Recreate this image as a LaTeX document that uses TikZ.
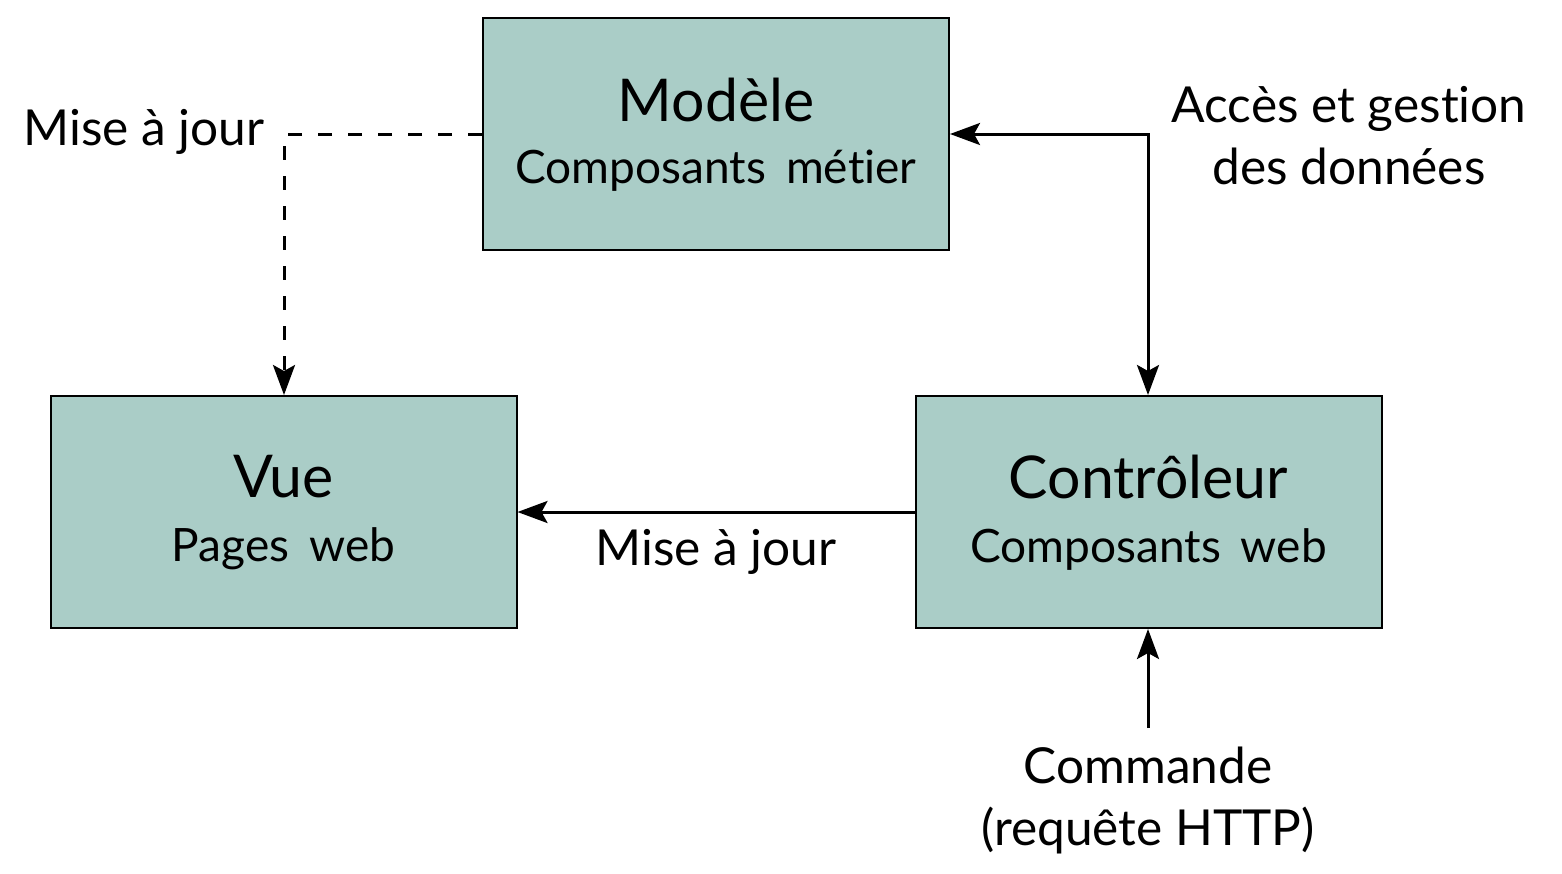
\documentclass[tikz,border=0pt]{standalone}
\usepackage{fontspec}
\setmainfont{Lato}[Ligatures=NoCommon]
\newfontfamily\subfont{Lato}[Ligatures=NoCommon, WordSpace=1.7]
\usetikzlibrary{arrows.meta}
\definecolor{boxfill}{HTML}{AACDC7}
\tikzset{
  block/.style={draw=black, line width=1pt, fill=boxfill, minimum width=233pt, minimum height=116pt, inner sep=0pt},
  ttl/.style={font=\fontsize{29.5}{34}\selectfont},
  sub/.style={font=\subfont\fontsize{23}{26}\selectfont},
  lbl/.style={font=\fontsize{24.8}{31}\selectfont, align=center, inner sep=0pt},
  conn/.style={line width=1.5pt, -{Stealth[length=15pt,width=11pt,inset=3pt]}},
  both/.style={line width=1.5pt, {Stealth[length=15pt,width=11pt,inset=3pt]}-{Stealth[length=15pt,width=11pt,inset=3pt]}},
  dconn/.style={line width=1.5pt, dash pattern=on 7pt off 8pt, -{Stealth[length=15pt,width=11pt,inset=3pt]}}
}
\begin{document}
\begin{tikzpicture}[x=0.5pt,y=0.5pt]
\useasboundingbox (0,0) rectangle (1562,-873);
\node[block] (mod) at (716,-134) {};
\node[block] (vue) at (283.5,-512) {};
\node[block] (ctl) at (1148.5,-512) {};
\node[ttl] (modt) at (716,-100) {Modèle};
\node[sub] (mods) at (716,-171) {Composants métier};
\node[ttl] (vuet) at (283.5,-477) {Vue};
\node[sub] (vues) at (283.5,-549) {Pages web};
\node[ttl] (ctlt) at (1148.5,-477) {Contrôleur};
\node[sub] (ctls) at (1148.5,-549) {Composants web};
\coordinate (c1) at (284,-134);
\coordinate (c2) at (1148,-134);
\coordinate (cmd) at (1148,-728);
\draw[dconn] (mod.west) -- (c1) -- (vue.north -| c1);
\draw[both] (mod.east) -- (c2) -- (ctl.north -| c2);
\draw[conn] (ctl.west) -- (vue.east);
\draw[conn] (cmd) -- (ctl.south -| cmd);
\node[lbl, anchor=east] (l1) at (265,-132) {Mise à jour};
\node[lbl] (l2) at (716,-552) {Mise à jour};
\node[lbl] (l3) at (1349,-136) {Accès et gestion\\des données};
\node[lbl] (l4) at (1148,-800) {Commande\\(requête HTTP)};
\end{tikzpicture}
\end{document}
